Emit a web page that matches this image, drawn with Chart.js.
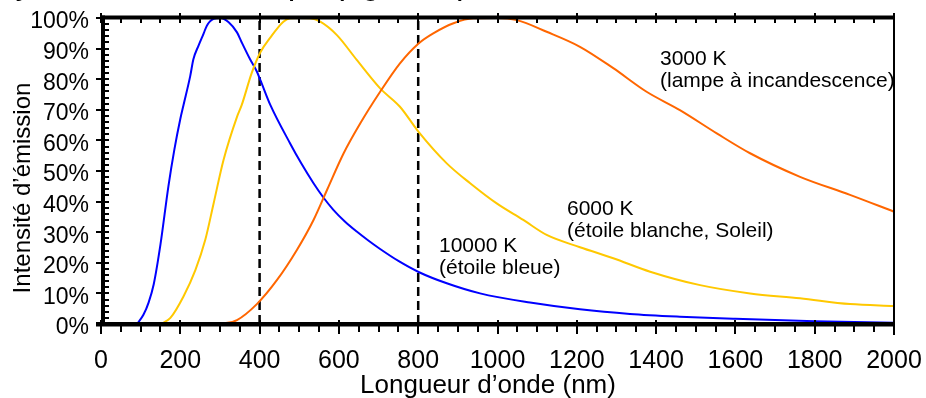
<!DOCTYPE html>
<html>
<head>
<meta charset="utf-8">
<script src="https://cdn.jsdelivr.net/npm/chart.js@4/dist/chart.umd.min.js"></script>
<style>
  html, body { margin:0; padding:0; background:#fff; overflow:hidden; }
  #wrap { position:relative; width:926px; height:398px; }
  canvas { display:block; }
  #title { position:absolute; left:-28px; top:-35px; font:34px 'Liberation Sans', Arial, sans-serif; line-height:1; white-space:nowrap; color:#000; }
</style>
</head>
<body>
<div id="wrap">
  <canvas id="c" width="926" height="398"></canvas>
  <div id="title">Rayonnement du corps (figure 1)</div>
</div>
<script>
// ---- data ----
const blueNm   = [91,107,120,133,150,170,185,200,208,225,233,246,259,267,284,301,322,343,355,376,393,402,427,477,505,536,560,586,615,645,675,704,750,801,872,956,1082,1208,1334,1460,1600,1800,2000];
const blueVal  = [0,3,7,13,26,45,57,67,71.5,81,86.5,91,95,97.5,99.7,100,98.6,95.3,92,86.5,82.5,79.7,71.6,59,52.5,46,41.5,37.3,33.5,30.2,27.2,24.5,20.6,17,13.3,10,7,4.8,3.3,2.4,1.7,0.9,0.4];

const yellowNm  = [151,175,208,238,263,284,309,343,355,380,402,427,460,477,502,528,553,595,645,704,754,801,872,931,998,1065,1124,1208,1292,1385,1511,1637,1763,1889,2000];
const yellowVal = [0,2,9,17.6,27.5,39.4,53.6,67.7,71.6,82,88.8,93.6,98.8,99.9,100,99.9,98.8,94.4,86.3,77,71,62.8,52.5,46,39.4,34,29.1,25.1,21.5,17.1,12.7,10,8.4,6.5,5.9];

const orangeNm  = [301,343,393,444,494,536,570,612,654,704,754,801,838,889,939,998,1049,1124,1208,1292,1376,1460,1553,1637,1763,1889,2000];
const orangeVal = [0,1.3,6.5,14.4,24.2,34,43.8,55.8,65.6,75.9,85.2,91.7,95,98.3,99.9,100,99.3,95.5,90.6,83.6,75.9,69.9,62.3,55.8,48.1,42.2,36.7];

const refLinesNm = [400, 800];
const xTicks = [0,200,400,600,800,1000,1200,1400,1600,1800,2000];
const yTicks = [0,10,20,30,40,50,60,70,80,90,100];

const seriesLabels = ['10000 K','6000 K','3000 K'];
const annotations = [
  ['3000 K','(lampe à incandescence)'],
  ['6000 K','(étoile blanche, Soleil)'],
  ['10000 K','(étoile bleue)']
];

// ---- build ----
const FONT = "'Liberation Sans', Arial, sans-serif";
Chart.defaults.font.family = FONT;
Chart.defaults.color = '#000';

const pts = (xs, ys) => xs.map((v,i)=>({x:v, y:ys[i]}));

function curve(label, xs, ys, color){
  return { label, data: pts(xs, ys), borderColor: color, borderWidth: 2,
           pointRadius: 0, fill: false, cubicInterpolationMode: 'monotone', clip: 4 };
}
const datasets = [
  curve(seriesLabels[2], orangeNm, orangeVal, '#FF6600'),
  curve(seriesLabels[1], yellowNm, yellowVal, '#FFC800'),
  curve(seriesLabels[0], blueNm, blueVal, '#0000FF'),
  ...refLinesNm.map(v => ({ label:'ref'+v, data:[{x:v,y:0},{x:v,y:100}], borderColor:'#000',
       borderWidth:2.5, borderDash:[9,5], pointRadius:0, fill:false, tension:0, clip:4 }))
];

const frame = {
  id: 'frame',
  afterDatasetsDraw(chart){
    const {ctx, chartArea:a, scales:{x, y}} = chart;
    ctx.save();
    ctx.fillStyle = '#000';
    ctx.fillRect(a.left, a.top-2.5, a.right-a.left, 4);          // top
    ctx.fillRect(a.left-5, a.bottom-2, a.right-a.left+5, 4.5);   // bottom
    ctx.fillRect(a.left, a.top-2.5, 4, a.bottom-a.top+4.5);      // left
    ctx.fillRect(a.right-1, a.top-2.5, 2, a.bottom+11-(a.top-2.5)); // right
    for (let v = x.min; v <= x.max; v += 50){
      const px = Math.round(x.getPixelForValue(v));
      const major = v % 200 === 0;
      if (major){ ctx.fillRect(px-1, a.bottom-4, 2, 14); ctx.fillRect(px-1, a.top-5, 2, 10); }
      else      { ctx.fillRect(px-1, a.bottom+2, 2, 6);  ctx.fillRect(px-1, a.top+1, 2, 4); }
    }
    for (let v = y.min; v <= y.max; v += 2){
      const py = Math.round(y.getPixelForValue(v));
      if (v % 10 === 0) ctx.fillRect(a.left-5, py-1, 13, 2);
      else ctx.fillRect(a.left+4, py-1, 4, 2);
    }
    ctx.restore();
  },
  afterDraw(chart){
    const {ctx} = chart;
    ctx.save();
    ctx.fillStyle = '#000';
    ctx.textBaseline = 'alphabetic';
    ctx.font = '26px ' + FONT;
    ctx.textAlign = 'center';
    ctx.fillText('Longueur d’onde (nm)', 488, 393);
    ctx.save();
    ctx.translate(29.5, 188);
    ctx.rotate(-Math.PI/2);
    ctx.font = '24px ' + FONT;
    ctx.fillText('Intensité d’émission', 0, 0);
    ctx.restore();
    ctx.font = '21px ' + FONT;
    ctx.textAlign = 'left';
    const pos = [[660,65,87],[567,215,237],[439,252,274]];
    annotations.forEach((lines,i)=>{
      ctx.fillText(lines[0], pos[i][0], pos[i][1]);
      ctx.fillText(lines[1], pos[i][0], pos[i][2]);
    });
    ctx.restore();
  }
};

new Chart(document.getElementById('c'), {
  type: 'line',
  data: { datasets },
  options: {
    responsive: false, animation: false, devicePixelRatio: 1,
    layout: { padding: { left: 0, right: 32, top: 18, bottom: 0 } },
    plugins: { legend: { display:false }, tooltip: { enabled:false }, title: { display:false } },
    scales: {
      x: {
        type: 'linear', min: 0, max: 2000,
        grid: { display:false, drawTicks:false }, border: { display:false },
        afterBuildTicks: s => { s.ticks = xTicks.map(v=>({value:v})); },
        afterFit: s => { s.height = 74; s.paddingLeft = 0; s.paddingRight = 0; },
        ticks: { font: { size: 25 }, padding: 22, maxRotation: 0, autoSkip: false, color:'#000',
                 callback: v => String(v) }
      },
      y: {
        min: 0, max: 100,
        grid: { display:false, drawTicks:false }, border: { display:false },
        afterBuildTicks: s => { s.ticks = yTicks.map(v=>({value:v})); },
        afterFit: s => { s.width = 101; s.paddingTop = 0; s.paddingBottom = 0; },
        ticks: { font: { size: 23 }, padding: 12, labelOffset: 4, autoSkip: false, color:'#000',
                 callback: v => v + '%' }
      }
    }
  },
  plugins: [frame]
});
</script>
</body>
</html>
